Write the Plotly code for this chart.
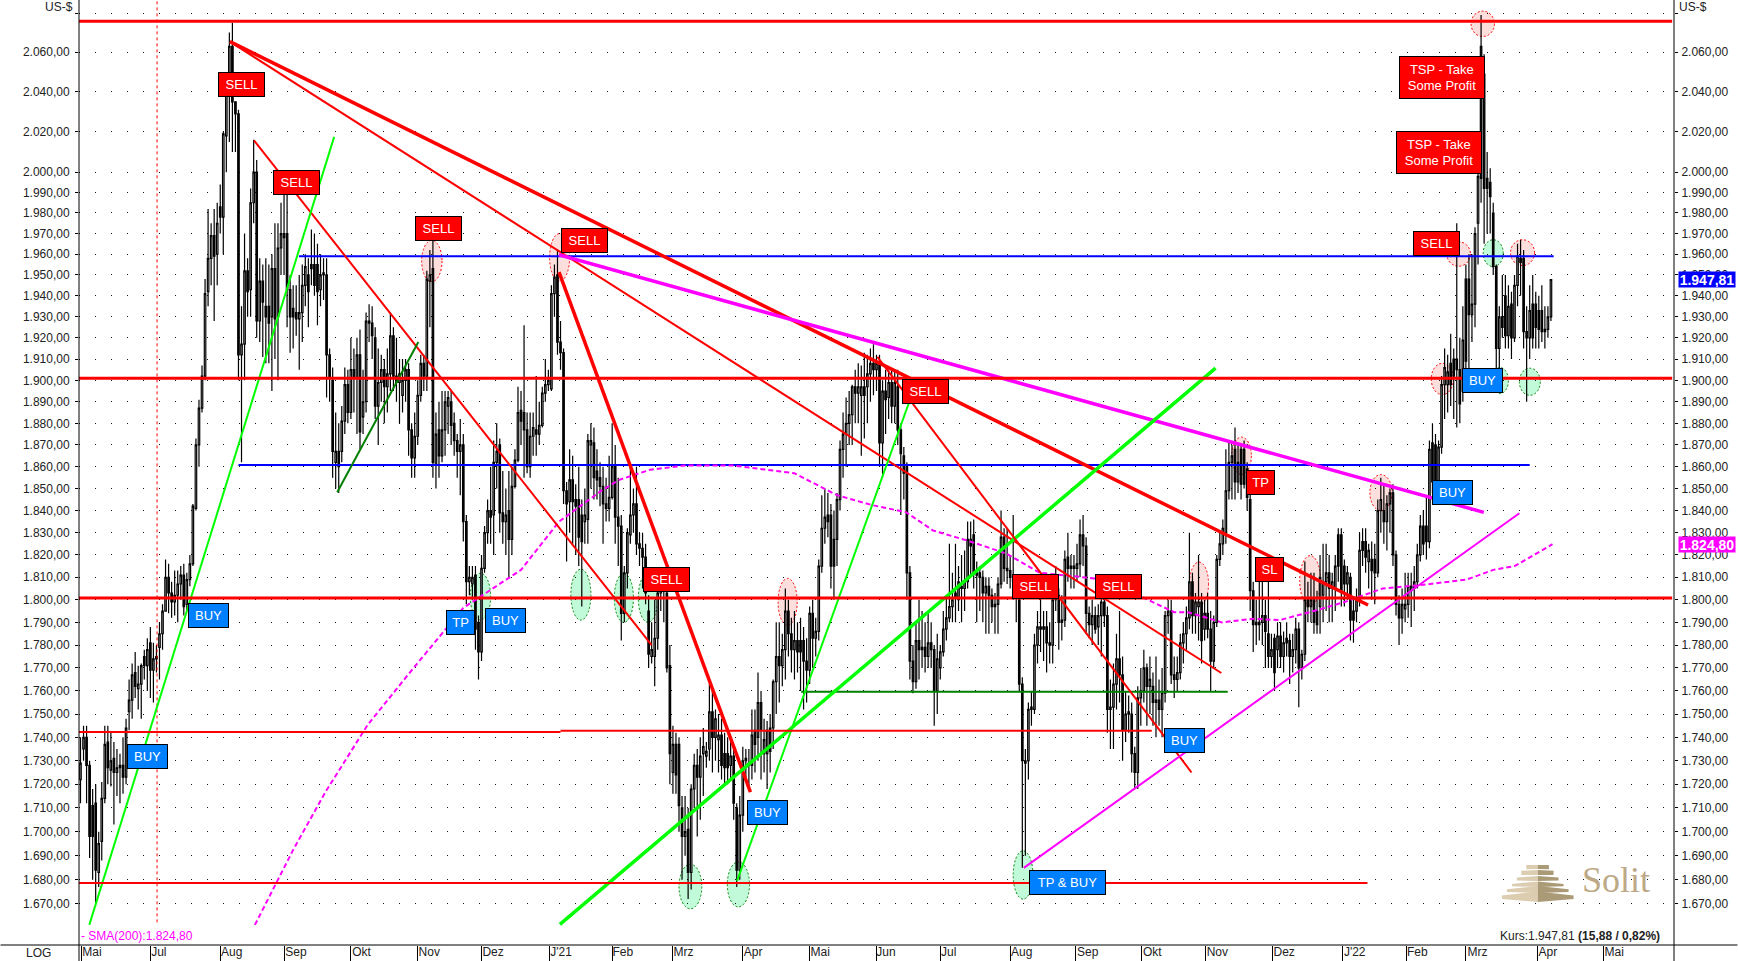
import math
import plotly.graph_objects as go

OPEN = [
1722,1735,1740,1728,1711,1712,1683,1696,1714,1738,
1726,1731,1725,1727,1728,1723,1751,1756,1768,1761,
1763,1775,1771,1781,1769,1775,1779,1785,1795,1810,
1803,1799,1802,1807,1811,1798,1809,1816,1841,1870,
1887,1902,1942,1958,1969,1960,1983,1978,2018,2040,
2063,2035,2029,1912,1917,1952,1943,1985,2000,1928,
1947,1935,1935,1930,1953,1930,1963,1970,1970,1943,
1934,1932,1929,1932,1945,1950,1955,1955,1955,1943,
1950,1950,1912,1900,1862,1867,1867,1881,1898,1885,
1905,1901,1912,1883,1890,1928,1927,1920,1888,1899,
1905,1897,1903,1921,1902,1899,1893,1900,1905,1877,
1864,1874,1893,1908,1902,1947,1953,1861,1877,1865,
1877,1888,1890,1880,1872,1867,1870,1835,1808,1807,
1811,1790,1777,1814,1830,1840,1838,1862,1870,1839,
1835,1840,1827,1851,1863,1886,1885,1877,1860,1874,
1877,1875,1879,1894,1898,1896,1941,1950,1918,1913,
1849,1844,1854,1845,1845,1838,1835,1836,1870,1871,
1858,1855,1851,1843,1841,1846,1860,1837,1833,1794,
1812,1829,1838,1843,1825,1823,1819,1795,1775,1775,
1783,1803,1806,1803,1771,1725,1737,1737,1710,1698,
1701,1683,1718,1728,1723,1733,1732,1735,1751,1740,
1739,1741,1733,1733,1728,1732,1710,1684,1707,1730,
1729,1728,1743,1740,1755,1733,1733,1744,1744,1764,
1775,1771,1778,1795,1785,1778,1782,1782,1782,1773,
1769,1794,1783,1786,1815,1832,1838,1838,1827,1827,
1845,1868,1875,1880,1884,1897,1894,1893,1897,1897,
1903,1908,1905,1908,1871,1895,1892,1899,1888,1897,
1877,1865,1860,1812,1773,1764,1782,1778,1779,1775,
1781,1778,1760,1770,1777,1787,1792,1797,1803,1800,
1806,1805,1808,1827,1829,1812,1812,1810,1803,1806,
1802,1797,1798,1807,1828,1814,1813,1810,1808,1800,
1763,1730,1730,1752,1752,1780,1788,1788,1788,1781,
1780,1800,1802,1790,1791,1819,1814,1815,1814,1816,
1829,1824,1794,1789,1793,1788,1793,1799,1793,1752,
1753,1763,1774,1767,1743,1751,1750,1733,1725,1757,
1760,1770,1762,1762,1755,1756,1752,1759,1793,1795,
1767,1765,1768,1781,1785,1792,1808,1793,1797,1799,
1787,1794,1787,1773,1790,1818,1825,1830,1849,1862,
1868,1853,1868,1868,1859,1845,1804,1789,1789,1790,
1793,1785,1775,1783,1778,1784,1775,1783,1782,1775,
1778,1787,1770,1776,1800,1797,1800,1795,1797,1802,
1808,1812,1805,1805,1829,1829,1815,1807,1810,1795,
1795,1800,1826,1826,1817,1818,1818,1812,1840,1840,
1835,1843,1848,1820,1798,1792,1796,1798,1804,1805,
1808,1820,1833,1833,1826,1871,1870,1852,1869,1898,
1898,1908,1910,1910,1905,1895,1948,1948,1931,1936,
1975,2063,2049,1997,1995,1980,1954,1915,1930,1940,
1921,1936,1920,1945,1958,1958,1923,1920,1936,1936,
1933,1933,1923,1924,1930]

HIGH = [
1740,1745,1745,1730,1718,1720,1700,1721,1745,1745,
1742,1738,1735,1733,1740,1748,1765,1772,1777,1771,
1772,1778,1783,1788,1781,1780,1790,1798,1818,1816,
1808,1813,1813,1815,1816,1812,1820,1843,1873,1891,
1907,1948,1982,1975,1982,1985,1994,2020,2048,2070,
2075,2035,2031,1935,1970,1958,1992,2016,2006,1958,
1955,1958,1955,1960,1975,1975,1985,1990,1992,1950,
1945,1945,1950,1955,1960,1958,1972,1970,1965,1960,
1958,1958,1915,1906,1885,1880,1888,1906,1905,1920,
1915,1920,1924,1905,1932,1936,1935,1925,1915,1912,
1910,1915,1932,1925,1920,1910,1910,1910,1908,1880,
1885,1900,1912,1912,1952,1962,1967,1885,1890,1895,
1895,1895,1895,1885,1875,1882,1875,1838,1815,1815,
1815,1793,1820,1833,1845,1860,1872,1880,1873,1858,
1850,1858,1860,1868,1897,1895,1926,1885,1885,1885,
1902,1890,1897,1910,1905,1945,1955,1962,1928,1915,
1853,1868,1865,1852,1860,1845,1850,1875,1880,1878,
1868,1862,1860,1855,1865,1880,1870,1855,1838,1815,
1832,1860,1850,1860,1830,1830,1825,1802,1790,1800,
1806,1812,1812,1815,1780,1745,1742,1740,1715,1715,
1710,1720,1733,1735,1740,1744,1738,1763,1760,1752,
1750,1748,1742,1740,1740,1735,1712,1715,1736,1735,
1735,1752,1752,1768,1760,1748,1747,1750,1765,1790,
1790,1785,1805,1800,1792,1795,1790,1792,1788,1783,
1797,1800,1792,1818,1847,1850,1848,1843,1840,1848,
1872,1885,1892,1895,1898,1905,1908,1907,1913,1912,
1915,1917,1912,1912,1900,1905,1905,1905,1905,1905,
1880,1869,1862,1815,1780,1790,1800,1795,1790,1795,
1790,1780,1785,1780,1795,1802,1825,1812,1825,1815,
1820,1822,1835,1835,1836,1817,1815,1813,1810,1810,
1805,1803,1810,1840,1832,1832,1820,1838,1810,1802,
1766,1735,1755,1760,1785,1795,1805,1795,1795,1790,
1805,1815,1805,1802,1822,1830,1820,1820,1825,1836,
1838,1828,1797,1800,1797,1798,1802,1803,1797,1765,
1772,1785,1795,1775,1760,1758,1755,1736,1762,1770,
1778,1772,1775,1768,1775,1765,1770,1795,1800,1800,
1775,1775,1785,1790,1797,1830,1812,1803,1820,1803,
1800,1803,1795,1793,1820,1830,1836,1868,1872,1870,
1878,1870,1870,1872,1862,1848,1808,1800,1810,1815,
1800,1815,1785,1785,1790,1790,1786,1790,1785,1785,
1792,1790,1778,1817,1808,1812,1812,1804,1820,1825,
1825,1820,1812,1820,1832,1832,1818,1815,1812,1800,
1805,1830,1832,1832,1825,1826,1825,1845,1855,1852,
1847,1850,1852,1822,1802,1805,1812,1812,1812,1815,
1825,1838,1840,1846,1872,1880,1875,1872,1902,1915,
1912,1922,1915,1975,1920,1935,1955,1960,1960,1973,
2005,2079,2059,2010,2002,1985,1955,1935,1950,1950,
1945,1942,1950,1965,1967,1962,1935,1945,1950,1942,
1940,1945,1935,1935,1948]

LOW = [
1712,1730,1712,1689,1680,1670,1677,1688,1712,1720,
1719,1703,1715,1712,1716,1720,1743,1748,1757,1752,
1748,1765,1760,1757,1755,1768,1765,1778,1795,1794,
1792,1793,1790,1800,1793,1795,1806,1815,1840,1860,
1885,1900,1935,1945,1928,1945,1970,1960,2000,2015,
2010,2010,1900,1862,1900,1930,1930,1975,1920,1918,
1911,1908,1908,1895,1910,1900,1950,1950,1925,1913,
1915,1921,1905,1918,1935,1925,1945,1940,1926,1935,
1938,1892,1890,1855,1850,1848,1862,1875,1880,1882,
1885,1875,1868,1875,1885,1918,1910,1882,1870,1890,
1880,1885,1895,1895,1890,1880,1885,1890,1865,1855,
1855,1870,1890,1895,1895,1925,1855,1850,1855,1862,
1865,1875,1870,1865,1855,1847,1826,1798,1802,1800,
1778,1765,1773,1812,1825,1825,1820,1850,1830,1825,
1820,1810,1820,1850,1862,1870,1855,1857,1855,1865,
1865,1870,1878,1890,1895,1895,1930,1912,1905,1843,
1817,1830,1825,1820,1815,1797,1825,1825,1850,1845,
1845,1842,1825,1835,1835,1845,1825,1815,1782,1790,
1805,1825,1830,1820,1815,1805,1798,1770,1772,1762,
1778,1795,1790,1768,1720,1716,1716,1700,1680,1690,
1672,1676,1710,1698,1705,1715,1727,1730,1725,1730,
1725,1722,1720,1720,1722,1705,1677,1680,1700,1722,
1718,1722,1725,1730,1722,1725,1718,1725,1735,1750,
1755,1762,1765,1775,1768,1765,1768,1760,1752,1755,
1763,1770,1775,1782,1812,1825,1828,1805,1800,1815,
1840,1855,1860,1870,1870,1880,1880,1865,1873,1880,
1890,1893,1895,1860,1855,1875,1882,1880,1880,1870,
1838,1845,1800,1765,1759,1761,1765,1770,1768,1770,
1770,1745,1750,1765,1775,1782,1790,1790,1790,1795,
1790,1795,1805,1810,1805,1790,1795,1790,1785,1785,
1790,1785,1785,1805,1808,1807,1805,1800,1790,1760,
1685,1690,1722,1745,1750,1772,1777,1773,1768,1772,
1772,1795,1778,1782,1788,1808,1805,1805,1808,1810,
1815,1785,1783,1780,1785,1780,1775,1788,1742,1735,
1735,1752,1755,1730,1738,1742,1725,1718,1718,1745,
1755,1745,1750,1745,1740,1745,1740,1755,1785,1763,
1757,1760,1765,1772,1778,1787,1785,1785,1782,1772,
1782,1783,1760,1770,1788,1815,1820,1825,1845,1845,
1845,1848,1845,1850,1840,1795,1777,1780,1782,1780,
1770,1770,1770,1760,1770,1770,1768,1775,1763,1768,
1772,1753,1765,1773,1790,1790,1785,1785,1785,1790,
1795,1790,1790,1795,1808,1797,1797,1800,1782,1781,
1790,1797,1815,1812,1805,1800,1798,1810,1830,1825,
1822,1830,1815,1793,1780,1785,1790,1792,1788,1795,
1805,1817,1820,1818,1823,1848,1848,1848,1866,1882,
1885,1888,1882,1878,1880,1890,1905,1905,1918,1925,
1955,1985,1965,1970,1970,1950,1905,1900,1920,1915,
1915,1910,1918,1935,1940,1915,1890,1910,1915,1915,
1915,1918,1915,1920,1928]

CLOSE = [
1729,1740,1728,1698,1698,1684,1695,1714,1737,1727,
1730,1725,1727,1728,1723,1744,1756,1767,1762,1763,
1771,1771,1778,1769,1774,1774,1785,1795,1810,1803,
1799,1802,1807,1811,1797,1809,1816,1842,1870,1887,
1902,1941,1958,1969,1959,1975,1978,2019,2040,2063,
2035,2029,1912,1917,1952,1942,1985,2000,1928,1947,
1937,1930,1927,1953,1929,1963,1970,1968,1943,1930,
1930,1929,1932,1945,1954,1942,1953,1945,1942,1950,
1951,1912,1901,1867,1867,1860,1881,1898,1885,1905,
1901,1912,1876,1890,1928,1927,1921,1888,1899,1905,
1897,1903,1921,1902,1899,1903,1900,1905,1877,1864,
1874,1893,1908,1902,1948,1950,1862,1875,1865,1877,
1890,1892,1879,1872,1867,1870,1835,1808,1810,1810,
1787,1777,1814,1830,1840,1837,1862,1867,1839,1835,
1838,1827,1851,1863,1885,1881,1877,1860,1874,1878,
1875,1879,1894,1898,1900,1941,1949,1918,1913,1849,
1843,1854,1844,1842,1828,1826,1838,1872,1872,1855,
1854,1851,1843,1841,1846,1860,1837,1833,1794,1812,
1830,1838,1843,1825,1823,1819,1803,1776,1778,1783,
1803,1806,1804,1770,1733,1737,1724,1711,1698,1700,
1683,1718,1728,1723,1732,1736,1734,1751,1740,1748,
1741,1728,1727,1727,1732,1712,1684,1707,1730,1731,
1728,1741,1737,1755,1743,1739,1743,1734,1764,1775,
1771,1778,1795,1785,1778,1782,1777,1777,1773,1769,
1794,1783,1786,1815,1832,1837,1835,1815,1815,1845,
1868,1875,1880,1884,1897,1894,1897,1897,1893,1903,
1908,1905,1908,1871,1895,1891,1899,1888,1899,1877,
1866,1857,1812,1773,1764,1782,1778,1779,1775,1781,
1778,1760,1774,1777,1787,1792,1797,1800,1801,1808,
1805,1808,1827,1824,1812,1811,1810,1803,1806,1802,
1797,1798,1807,1828,1814,1813,1810,1808,1801,1763,
1730,1729,1752,1753,1780,1788,1787,1787,1781,1780,
1800,1802,1790,1791,1818,1814,1815,1814,1816,1829,
1824,1794,1789,1793,1787,1793,1799,1793,1752,1753,
1763,1774,1767,1743,1750,1750,1733,1725,1757,1760,
1770,1762,1765,1755,1756,1752,1759,1793,1795,1767,
1765,1768,1781,1785,1792,1808,1793,1799,1799,1782,
1794,1787,1773,1790,1818,1825,1832,1849,1862,1865,
1853,1862,1852,1852,1846,1804,1789,1790,1790,1793,
1786,1775,1778,1768,1784,1775,1781,1781,1775,1778,
1787,1770,1776,1800,1797,1800,1790,1789,1810,1808,
1812,1805,1808,1815,1815,1804,1807,1812,1791,1791,
1800,1822,1822,1819,1822,1813,1812,1840,1845,1835,
1843,1848,1820,1798,1792,1798,1798,1806,1806,1808,
1820,1833,1825,1826,1868,1853,1852,1869,1898,1906,
1904,1898,1902,1905,1889,1919,1909,1931,1936,1970,
1998,1997,1992,1992,1988,1954,1915,1930,1925,1921,
1935,1920,1945,1959,1956,1923,1920,1933,1920,1925,
1924,1923,1924,1930,1947.81]

assert len(OPEN) == len(HIGH) == len(LOW) == len(CLOSE), (len(OPEN), len(HIGH), len(LOW), len(CLOSE))
SESSION = list(range(len(CLOSE)))

SMA_X = [57.4,70,80.7,94.5,109,126,145,157.5,171,177.3,187.5,198.7,215,235,249,260.5,271.7,280.6,291.8,304.6,315.8,333.6,349.7,360,364.5,375.7,385.9,394.7,404.6,416.1,428.6,441,456.3,465,472,484.5]
SMA_Y = [1661.4,1692.4,1716.9,1745.3,1769,1796.4,1813.3,1835,1848.6,1854,1858.6,1860.5,1860.5,1857,1847,1842.5,1839.3,1831,1826.5,1820.7,1812,1809.5,1801,1794.5,1794.5,1790,1791.6,1791,1794.5,1799,1805,1806.5,1809,1813.3,1815,1824.8]

MONTH_TICKS = [0.3,23,46,67,89,111,132,154.3,175,194.7,218,240,262,283,306,327.6,349.3,370.4,392.4,415.5,436.5,456,479.6,501.3]
MONTH_LABEL_POS = [3.8,25.8,49.8,70.9,92.5,114.8,135.8,158.2,178.5,198.5,221.4,243.5,265.1,285.8,309.8,331.5,352.8,374.2,396.2,419.4,440,459.8,483,504.8]
MONTH_LABELS = ["Mai","Jul","Aug","Sep","Okt","Nov","Dez","J'21","Feb","Mrz","Apr","Mai","Jun","Jul","Aug","Sep","Okt","Nov","Dez","J'22","Feb","Mrz","Apr","Mai"]

PRICE_TICKS = [1670,1680,1690,1700,1710,1720,1730,1740,1750,1760,1770,1780,1790,1800,1810,1820,1830,1840,1850,1860,1870,1880,1890,1900,1910,1920,1930,1940,1950,1960,1970,1980,1990,2000,2020,2040,2060,2080]
PRICE_LABELS = ["1.670,00","1.680,00","1.690,00","1.700,00","1.710,00","1.720,00","1.730,00","1.740,00","1.750,00","1.760,00","1.770,00","1.780,00","1.790,00","1.800,00","1.810,00","1.820,00","1.830,00","1.840,00","1.850,00","1.860,00","1.870,00","1.880,00","1.890,00","1.900,00","1.910,00","1.920,00","1.930,00","1.940,00","1.950,00","1.960,00","1.970,00","1.980,00","1.990,00","2.000,00","2.020,00","2.040,00","2.060,00",""]

# horizontal levels: price, first session, last session
LEVEL_PRICE = [2075.8,1901,1800.8,1742.3,1742.8,1678.7,1959,1860.8,1759.7]
LEVEL_START = [-0.5,-0.5,-0.5,-0.5,158,-0.5,71.9,52,237.2]
LEVEL_END = [523.9,523.9,523.9,158,352.6,423.6,484.9,477,377.6]

# trend lines: endpoints
TREND_X = [[49.2,423.8],[49.2,375.5],[57.1,188],[157.5,220.5],[157.5,461.9],[2.9,83.5],[84.5,111.2],[157.8,373.6],[216.1,272.8],[262.3,365.7],[310.5,473.6]]
TREND_Y = [[2065.4,1797.7],[2065.4,1767.8],[2015.8,1780],[1951.4,1716.7],[1959.7,1839.2],[1661.4,2017.5],[1848.3,1918],[1661.6,1905.7],[1679.5,1890],[1911,1725],[1684.9,1838.8]]

CURSOR_X = [25.2,25.2]
CURSOR_Y = [2086,1661.4]

LABEL_TEXT = ["SELL","SELL","SELL","SELL","SELL","SELL","SELL","SELL","SELL","TP","SL","TSP - Take<br>Some Profit","TSP - Take<br>Some Profit",
              "BUY","BUY","TP","BUY","BUY","BUY","TP & BUY","BUY","BUY"]
LABEL_X = [53,71,118,166,193,278,314.5,341.5,446.4,388.5,391.5,448,447,22,42,125,140,226,363.5,325,451.6,461.4]
LABEL_Y = [2043.6,1994.8,1972.5,1966.7,1809,1895,1806,1806,1965,1853,1813.6,2047,2009.6,1731.7,1793,1790,1791,1708,1738.7,1679,1848,1900]

RED_EX0 = [112.3,154.4,229.6,365,401.3,424.4,378.9,444.6,449.7,457.7,470.7]
RED_EX1 = [119,161,235.9,371.3,408.2,431.7,385.4,451.9,457.5,465.4,478.6]
RED_EY0 = [1946.8,1947,1788.7,1797.5,1797.5,1840,1856.4,1893.3,1954.2,2068,1954.5]
RED_EY1 = [1966.7,1970,1809.5,1816.8,1819.7,1856.4,1873.6,1908,1966,2081,1967]
GREEN_EX0 = [128.3,161.4,175.7,183.6,197,212.9,307,461.7,473.6,464.5]
GREEN_EX1 = [135,168,182,190,204.5,220.2,313.5,468.3,480.5,470]
GREEN_EY0 = [1791,1791,1790,1790,1668,1668.8,1672,1954,1893,1893.8]
GREEN_EY1 = [1811.8,1813.6,1811.7,1811.7,1686.4,1687.4,1692,1967,1905.7,1906]

# ---------------------------------------------------------------- layout
W, H = 1738, 961
L_M, R_M, T_M, B_M = 78.5, 63.5, 0, 16
PW, PH = W - L_M - R_M, H - T_M - B_M
XR = [-0.49, 524.5]
YR = [math.log10(1653.2), math.log10(2086.7)]
FONT = "Liberation Sans"
RED, BLUE, LIME, DKGREEN, MAG = "#ff0000", "#0000ff", "#00ff00", "#008000", "#ff00ff"

fig = go.Figure()
fig.add_trace(go.Candlestick(
    x=SESSION, open=OPEN, high=HIGH, low=LOW, close=CLOSE,
    increasing=dict(line=dict(color="black", width=1.2), fillcolor="white"),
    decreasing=dict(line=dict(color="black", width=1.2), fillcolor="black"),
    whiskerwidth=0, hoverinfo="skip", showlegend=False))

fig.add_trace(go.Scatter(x=CURSOR_X, y=CURSOR_Y, mode="lines", hoverinfo="skip", showlegend=False,
                         line=dict(color=RED, width=1, dash="3px,3px")))

LEVEL_COLOR = [RED, RED, RED, RED, RED, RED, BLUE, BLUE, DKGREEN]
LEVEL_WIDTH = [3, 3, 3, 2, 2, 2, 2, 2, 2]
for k in range(6, 9):
    fig.add_trace(go.Scatter(x=[LEVEL_START[k], LEVEL_END[k]], y=[LEVEL_PRICE[k]] * 2, mode="lines",
                             hoverinfo="skip", showlegend=False,
                             line=dict(color=LEVEL_COLOR[k], width=LEVEL_WIDTH[k])))

fig.add_trace(go.Scatter(x=SMA_X, y=SMA_Y, mode="lines", hoverinfo="skip", showlegend=False,
                         line=dict(color=MAG, width=2, dash="5px,3px")))

TREND_COLOR = [RED, RED, RED, RED, MAG, LIME, DKGREEN, LIME, LIME, RED, MAG]
TREND_WIDTH = [3.5, 2, 2, 3.5, 3.5, 2, 2, 3.5, 2, 2, 2]
for k in range(len(TREND_X)):
    fig.add_trace(go.Scatter(x=TREND_X[k], y=TREND_Y[k], mode="lines", hoverinfo="skip", showlegend=False,
                             line=dict(color=TREND_COLOR[k], width=TREND_WIDTH[k])))

for k in range(6):
    fig.add_trace(go.Scatter(x=[LEVEL_START[k], LEVEL_END[k]], y=[LEVEL_PRICE[k]] * 2, mode="lines",
                             hoverinfo="skip", showlegend=False,
                             line=dict(color=LEVEL_COLOR[k], width=LEVEL_WIDTH[k])))

# carrier for the right price axis and the month tick marks
fig.add_trace(go.Scatter(x=[SESSION[-1]], y=[CLOSE[-1]], xaxis="x2", yaxis="y2", mode="markers",
                         marker=dict(size=1, opacity=0), hoverinfo="skip", showlegend=False))

shapes = []
for x0, x1, y0, y1 in zip(RED_EX0, RED_EX1, RED_EY0, RED_EY1):
    shapes.append(dict(type="circle", xref="x", yref="y", x0=x0, x1=x1, y0=y0, y1=y1, layer="below",
                       fillcolor="rgba(250,190,185,0.5)", line=dict(color=RED, width=1, dash="2px,2px")))
for x0, x1, y0, y1 in zip(GREEN_EX0, GREEN_EX1, GREEN_EY0, GREEN_EY1):
    shapes.append(dict(type="circle", xref="x", yref="y", x0=x0, x1=x1, y0=y0, y1=y1, layer="below",
                       fillcolor="rgba(140,245,185,0.55)", line=dict(color=DKGREEN, width=1, dash="2px,2px")))

# frame lines reaching into the bottom band
def px(x):
    return (x - L_M) / PW
def py(y):
    return 1 - (y - T_M) / PH
for xp in (L_M, L_M + PW):
    shapes.append(dict(type="line", xref="paper", yref="paper", x0=px(xp), x1=px(xp), y0=py(961), y1=1,
                       line=dict(color="black", width=1)))
shapes.append(dict(type="line", xref="paper", yref="paper", x0=px(0), x1=px(1738), y0=py(945), y1=py(945),
                   line=dict(color="black", width=1)))

# pyramid logo
LOGO_STRIPES = [(1526.7, 1549.3, 865, 869, 1), (1521.7, 1554, 870, 874.5, 2), (1517.3, 1559, 876, 880, 3),
                (1512.3, 1564, 881.5, 885.5, 4), (1507.3, 1569, 886, 891, 5), (1502.3, 1574, 891.5, 902, 6)]
LOGO_CX = 1538.3
for xl, xr, yt, yb, n in LOGO_STRIPES:
    slope = (n - 1) * 0.8
    left = f"M{px(xl)} {py(yt + slope)} L{px(LOGO_CX)} {py(yt)} L{px(LOGO_CX)} {py(yb + slope * (0.6 if n < 6 else 0.0))} L{px(xl)} {py(yb - (3 if n == 6 else -0.2 * n) )} Z"
    right = f"M{px(LOGO_CX)} {py(yt)} L{px(xr)} {py(yt + slope)} L{px(xr)} {py(yb - (3 if n == 6 else -0.2 * n))} L{px(LOGO_CX)} {py(yb + slope * (0.6 if n < 6 else 0.0))} Z"
    shapes.append(dict(type="path", xref="paper", yref="paper", path=left, fillcolor="#dccdb0", line=dict(width=0)))
    shapes.append(dict(type="path", xref="paper", yref="paper", path=right, fillcolor="#ab9a76", line=dict(width=0)))

annotations = []
for text, x, y in zip(LABEL_TEXT, LABEL_X, LABEL_Y):
    is_sell = text in ("SELL", "SL") or text.startswith("TSP") or (text == "TP" and x > 300)
    if text.startswith("TSP"):
        w, h = 84, 41
    elif text == "TP & BUY":
        w, h = 75, 23
    elif text in ("TP", "SL"):
        w, h = 27, 23
    elif text == "BUY":
        w, h = 39, 23
    else:
        w, h = 45, 23
    annotations.append(dict(x=x, y=math.log10(y), xref="x", yref="y", text=text, showarrow=False,
                            width=w, height=h, borderpad=0, align="center", valign="middle",
                            bgcolor=RED if is_sell else "#0080ff", bordercolor="black", borderwidth=1,
                            font=dict(family=FONT, size=13, color="white")))

def text_px(text, x, y, anchor="left", size=12, color="#222222", family=FONT):
    return dict(x=px(x), y=py(y), xref="paper", yref="paper", text=text, showarrow=False, xanchor=anchor,
                yanchor="middle", font=dict(family=family, size=size, color=color), borderpad=0)

annotations += [
    text_px("US-$", 43, 7),
    text_px("US-$", 1679, 7),
    text_px("LOG", 24, 953),
    text_px("- SMA(200):1.824,80", 79.6, 936, color=MAG),
    text_px("Kurs:1.947,81 <b>(15,88 / 0,82%)</b>", 1499, 936),
    text_px("Solit", 1581, 880, size=36, color="#bda986", family="Liberation Serif"),
]
for val, txt, col in ((1947.81, "1.947,81", BLUE), (1824.80, "1.824,80", MAG)):
    annotations.append(dict(x=px(1679), y=math.log10(val), xref="paper", yref="y", text=f"<b>{txt}</b>",
                            showarrow=False, xanchor="left", width=56, height=15, borderpad=0, bgcolor=col,
                            font=dict(family=FONT, size=14, color="white")))

tickfont = dict(family=FONT, size=12, color="#222222")
fig.update_layout(
    width=W, height=H, autosize=False,
    margin=dict(l=L_M, r=R_M, t=T_M, b=B_M, pad=0, autoexpand=False),
    paper_bgcolor="white", plot_bgcolor="white", showlegend=False, dragmode=False,
    shapes=shapes, annotations=annotations,
    xaxis=dict(range=XR, automargin=False, tickmode="array", tickvals=MONTH_LABEL_POS, ticktext=MONTH_LABELS, tickfont=tickfont,
               ticks="", ticklabelstandoff=-2, showgrid=False, zeroline=False,
               showline=False, rangeslider=dict(visible=False), fixedrange=True),
    xaxis2=dict(range=XR, automargin=False, overlaying="x", side="bottom", anchor="y", tickmode="array", tickvals=MONTH_TICKS,
                ticktext=[""] * len(MONTH_TICKS), ticks="outside", ticklen=16, tickcolor="black", tickwidth=1,
                showticklabels=False, showgrid=False, zeroline=False, showline=False, fixedrange=True),
    yaxis=dict(type="log", range=YR, automargin=False, tickmode="array", tickvals=PRICE_TICKS, ticktext=PRICE_LABELS, tickfont=tickfont,
               ticks="outside", ticklen=3, tickcolor="black", ticklabelstandoff=3, showgrid=True, gridcolor="#111111",
               griddash="1px,15px", gridwidth=1, zeroline=False, showline=False, fixedrange=True),
    yaxis2=dict(type="log", range=YR, automargin=False, overlaying="y", side="right", anchor="x2", tickmode="array", tickvals=PRICE_TICKS,
                ticktext=PRICE_LABELS, tickfont=tickfont, ticks="outside", ticklen=3, tickcolor="black",
                ticklabelstandoff=1, showgrid=False, zeroline=False, showline=False, fixedrange=True),
)

fig.write_html("out.html", config=dict(displayModeBar=False),
               post_script="document.body.style.margin='0';document.body.style.overflow='hidden';")
